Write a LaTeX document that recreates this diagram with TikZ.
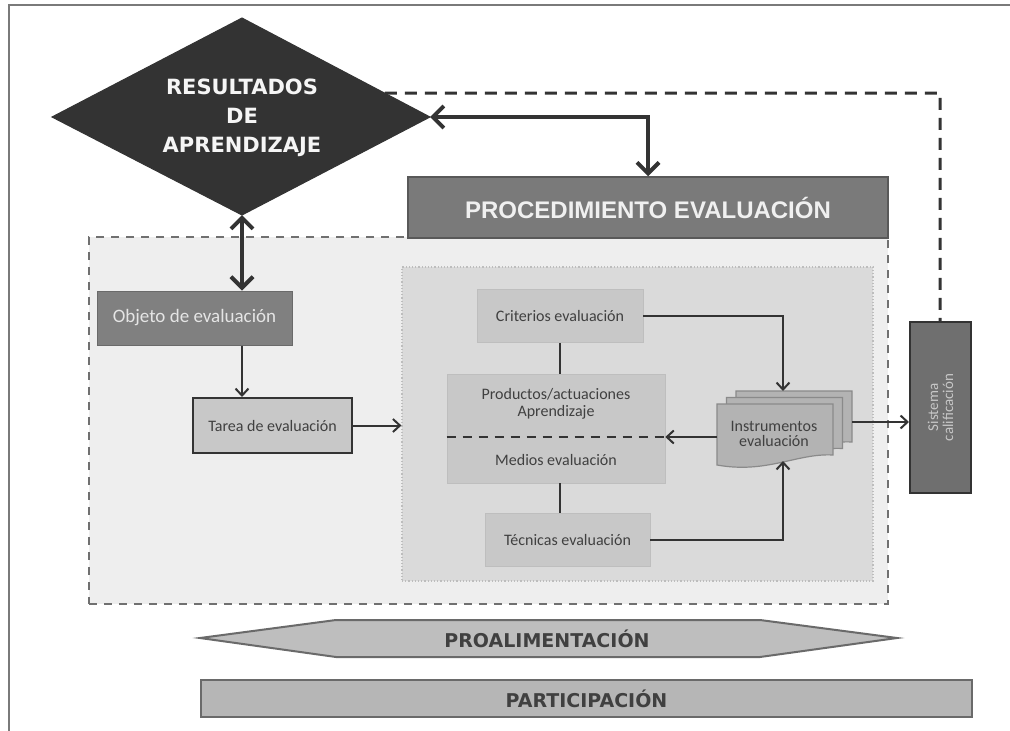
\documentclass[tikz,border=0pt]{standalone}
\usepackage{fontspec}
\setmainfont{Carlito}
\newfontfamily\dvb{DejaVu Sans}
\newfontfamily\lsb{Liberation Sans}
\usetikzlibrary{arrows.meta,calc}
\definecolor{cline}{HTML}{333333}
\definecolor{framec}{HTML}{7A7A7A}
\definecolor{diam}{HTML}{333333}
\definecolor{procf}{HTML}{7A7A7A}
\definecolor{procd}{HTML}{595959}
\definecolor{regf}{HTML}{EEEEEE}
\definecolor{regd}{HTML}{707070}
\definecolor{innf}{HTML}{DADADA}
\definecolor{innd}{HTML}{BDBDBD}
\definecolor{sboxc}{HTML}{C8C8C8}
\definecolor{sboxd}{HTML}{BEBEBE}
\definecolor{objf}{HTML}{808080}
\definecolor{objd}{HTML}{6A6A6A}
\definecolor{docf}{HTML}{B3B3B3}
\definecolor{docd}{HTML}{8A8A8A}
\definecolor{sistf}{HTML}{6F6F6F}
\definecolor{hexf}{HTML}{BEBEBE}
\definecolor{hexd}{HTML}{6A6A6A}
\definecolor{ltext}{HTML}{404040}
\newcommand\docsheet[2]{%
  \filldraw[fill=docf,draw=docd,line width=1.2pt]
    (#1,#2) -- ++(116,0) -- ++(0,51)
    .. controls ++(-36,-2) and ++(50,9) .. ++(-116,10) -- cycle;}
\begin{document}
\begin{tikzpicture}[x=1pt,y=-1pt,
  conn/.style={draw=cline,line width=2pt,-{Straight Barb[length=7pt,width=13pt,line width=2pt]}},
  plainline/.style={draw=cline,line width=2.2pt},
  bigarrow/.style={draw=cline,line width=4.5pt,
    {Straight Barb[length=11pt,width=22pt,line width=4pt]}-{Straight Barb[length=11pt,width=22pt,line width=4pt]}},
  lbl/.style={font=\fontsize{16}{17}\selectfont,text=ltext,align=center,inner sep=0pt},
  sbox/.style={fill=sboxc,draw=sboxd,line width=0.6pt,inner sep=0pt,font=\fontsize{16}{17}\selectfont,text=ltext},
  bigbar/.style={font=\dvb\bfseries\fontsize{19}{22}\selectfont,text=ltext},
]
\useasboundingbox (0,0) rectangle (1010,731);
\fill[white] (0,0) rectangle (1010,731);
% outer frame
\draw[framec,line width=1.5pt] (9,731) -- (9,5) -- (1010,5);

% region
\node[fill=regf,draw=regd,line width=1.6pt,dash pattern=on 8pt off 7pt,
      minimum width=799,minimum height=367,inner sep=0pt] (region) at (488.5,420.5) {};
% procedimiento
\node[fill=procf,draw=procd,line width=1.5pt,minimum width=480,minimum height=61,inner sep=0pt,
      font=\lsb\bfseries\fontsize{24}{26}\selectfont,text=white!94!black] (proc) at (648,207.5) {PROCEDIMIENTO EVALUACIÓN};
% inner dotted area
\node[fill=innf,draw=innd,line width=1.2pt,dotted,minimum width=471,minimum height=314,inner sep=0pt] (inner) at (637.5,424) {};

% feedback dashed line
\coordinate (dL) at (52,117);
\coordinate (dR) at (430,117);
\coordinate (dT) at (242,18);
\coordinate (dB) at (242,215);
\coordinate (fbS) at ($(dT)!0.76!(dR)$);
\coordinate (fbC) at (940,93);

% diamond
\filldraw[fill=diam,draw=diam,line width=1pt] (dL) -- (dT) -- (dR) -- (dB) -- cycle;
\node[font=\dvb\bfseries\fontsize{21}{29}\selectfont,text=white!96!black,align=center] (res) at (242,118)
  {RESULTADOS\\DE\\APRENDIZAJE};

% left boxes
\node[fill=objf,draw=objd,line width=1pt,minimum width=195,minimum height=54,inner sep=0pt,
      font=\fontsize{19}{20}\selectfont,text=white!90!black] (obj) at (194.5,318) {Objeto de evaluación};
\node[fill=sboxc,draw=cline,line width=2pt,minimum width=159,minimum height=55,inner sep=0pt,
      font=\fontsize{16}{17}\selectfont,text=ltext] (tarea) at (272.5,425.5) {Tarea de evaluación};

% inner boxes
\node[sbox,minimum width=166,minimum height=53] (crit) at (560,316) {Criterios evaluación};
\node[sbox,minimum width=218,minimum height=109] (prod) at (556,428.5) {};
\node[lbl] (prodt) at (556,404) {Productos/actuaciones\\Aprendizaje};
\node[lbl] (medt) at (556,460) {Medios evaluación};
\node[sbox,minimum width=165,minimum height=53] (tec) at (567.5,540) {Técnicas evaluación};
\draw[cline,line width=2.5pt,dash pattern=on 9pt off 7pt] (prod.west |- 0,437) -- (prod.east |- 0,437);

% instrumentos (document stack)
\docsheet{736}{391}
\docsheet{726.5}{397.5}
\docsheet{717}{404}
\node[lbl,font=\fontsize{16}{15.5}\selectfont] (instr) at (774,434) {Instrumentos\\evaluación};
\coordinate (instrT) at (783,391);
\coordinate (instrB) at (783,461);
\coordinate (instrL) at (717,437);
\coordinate (instrR) at (852,422);

% sistema
\node[fill=sistf,draw=cline,line width=2pt,minimum width=61,minimum height=171,inner sep=0pt] (sist) at (940.5,407.5) {};
\node[rotate=90,font=\fontsize{15}{15}\selectfont,text=white!78!black,align=center] (sistt) at (sist.center) {Sistema\\calificación};

% bottom bars
\coordinate (hL) at (200,638);
\coordinate (hR) at (897,638);
\filldraw[fill=hexf,draw=hexd,line width=2pt] (hL) -- (336,620) -- (760,620) -- (hR) -- (760,657) -- (336,657) -- cycle;
\node[bigbar] (proal) at (547,639) {PROALIMENTACIÓN};
\node[fill=hexf!96!black,draw=hexd,line width=2pt,minimum width=771,minimum height=37,inner sep=0pt,bigbar] (part) at (586.5,698.5) {PARTICIPACIÓN};

% connectors
\draw[cline,line width=3pt,dash pattern=on 12pt off 8pt] (fbS) -- (fbC) -- (fbC |- sist.north);
\draw[bigarrow] (dR) -| (proc.north);
\draw[bigarrow] (dB) -- (dB |- obj.north);
\draw[conn] (dB |- obj.south) -- (dB |- tarea.north);
\draw[conn] (tarea.east) -- (tarea.east -| inner.west);
\draw[plainline] (crit.south) -- (crit.south |- prod.north);
\draw[plainline] (crit.south |- prod.south) -- (crit.south |- tec.north);
\draw[conn] (crit.east) -| (instrT);
\draw[conn] (tec.east) -| (instrB);
\draw[conn] (instrL) -- (instrL -| prod.east);
\draw[conn] (instrR) -- (instrR -| sist.west);
\end{tikzpicture}
\end{document}
